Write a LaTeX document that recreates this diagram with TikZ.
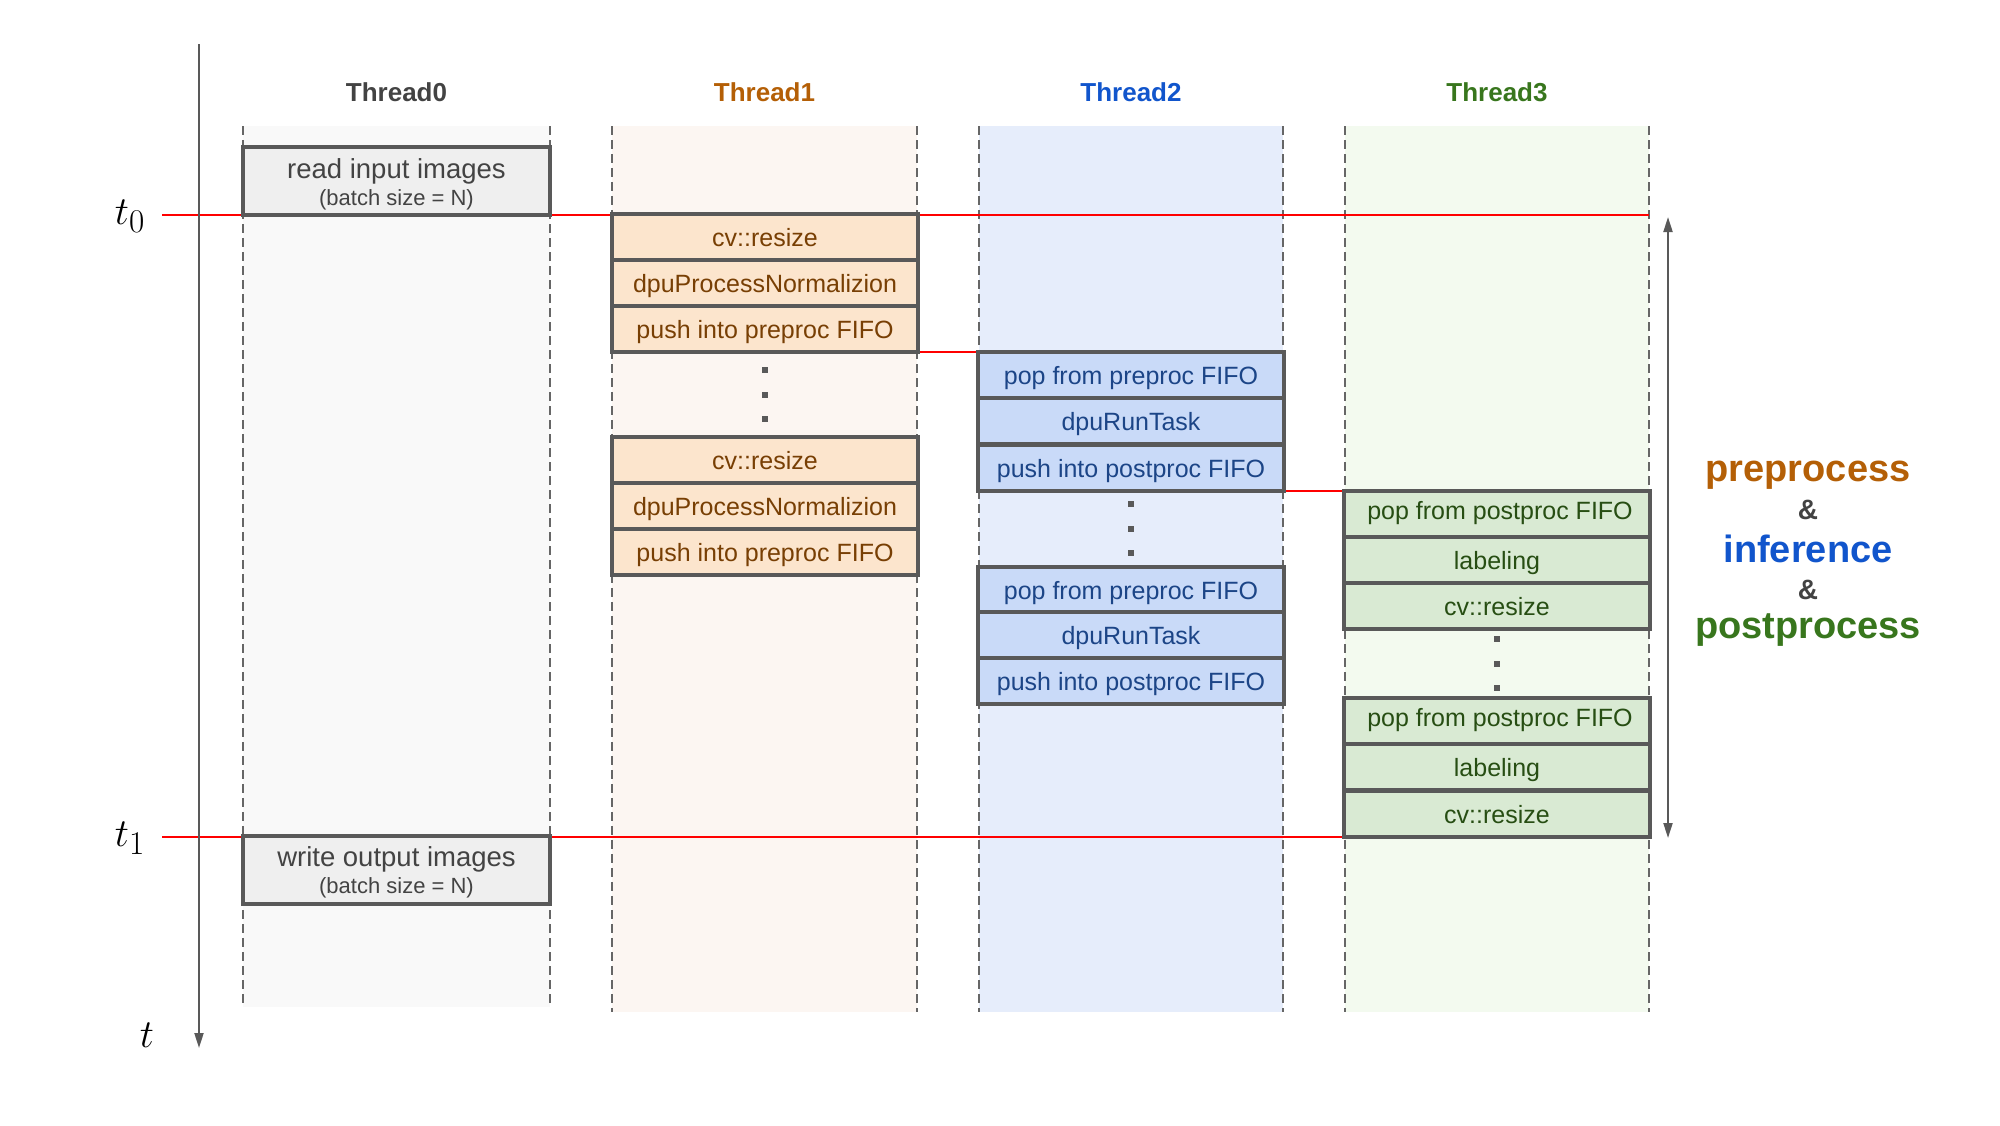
\documentclass[tikz,border=0pt]{standalone}
\usepackage[no-math]{fontspec}
\setmainfont{Liberation Sans}
\usetikzlibrary{arrows.meta}
\pgfdeclarelayer{back}
\pgfdeclarelayer{mid}
\pgfsetlayers{back,mid,main}
\definecolor{boxgray}{HTML}{595959}
\definecolor{dashgray}{HTML}{666666}
\definecolor{redl}{HTML}{FF0000}
\definecolor{colA}{HTML}{F9F9F9}
\definecolor{colB}{HTML}{FCF6F2}
\definecolor{colC}{HTML}{E6EDFB}
\definecolor{colD}{HTML}{F3FAEF}
\definecolor{fillA}{HTML}{EFEFEF}
\definecolor{fillB}{HTML}{FCE5CD}
\definecolor{fillC}{HTML}{C9DAF8}
\definecolor{fillD}{HTML}{D9EAD3}
\definecolor{txtA}{HTML}{434343}
\definecolor{labB}{HTML}{B45F06}
\definecolor{labC}{HTML}{1155CC}
\definecolor{labD}{HTML}{38761D}
\definecolor{txtB}{HTML}{783F04}
\definecolor{txtC}{HTML}{1C4587}
\definecolor{txtD}{HTML}{274E13}
\tikzset{
  coldash/.style={draw=dashgray, line width=2pt, dash pattern=on 9pt off 5pt},
  redline/.style={draw=redl, line width=2.5pt},
  rowbox/.style={draw=boxgray, line width=4pt, minimum width=306pt, minimum height=46pt,
    inner sep=0pt, outer sep=0pt, anchor=north west, text height=23pt, text depth=4pt,
    font=\fontsize{25}{30}\selectfont},
  rowB/.style={rowbox, fill=fillB, text=txtB},
  rowC/.style={rowbox, fill=fillC, text=txtC},
  rowD/.style={rowbox, fill=fillD, text=txtD},
  bigbox/.style={draw=boxgray, line width=4pt, fill=fillA, minimum width=307pt,
    minimum height=68pt, inner sep=0pt, outer sep=0pt, anchor=north west},
  bigtxt/.style={anchor=base, inner sep=0pt, text=txtA, font=\fontsize{27.5}{32}\selectfont},
  smalltxt/.style={anchor=base, inner sep=0pt, text=txtA, font=\fontsize{22}{26}\selectfont},
  thlabel/.style={inner sep=0pt, font=\bfseries\fontsize{26}{30}\selectfont},
  sidetxt/.style={inner sep=0pt, font=\bfseries\fontsize{38}{44}\selectfont},
  amptxt/.style={inner sep=0pt, text=txtA, font=\bfseries\fontsize{28}{32}\selectfont},
  tlabel/.style={inner sep=0pt, scale=1.6, font=\fontsize{24.88}{30}\selectfont},
  axisline/.style={draw=boxgray, line width=2pt},
  dotsq/.style={fill=boxgray},
}
\begin{document}
\begin{tikzpicture}[x=1pt,y=-1pt]
\useasboundingbox (0,0) rectangle (2000,1125);

% ---- column backgrounds
\begin{pgfonlayer}{back}
\fill[colA] (243,126) rectangle (550,1007);
\fill[colB] (612,126) rectangle (917,1012);
\fill[colC] (979,126) rectangle (1283,1012);
\fill[colD] (1345,126) rectangle (1649,1012);
\draw[coldash] (243,126) -- (243,1007);
\draw[coldash] (550,126) -- (550,1007);
\draw[coldash] (612,126) -- (612,1012);
\draw[coldash] (917,126) -- (917,1012);
\draw[coldash] (979,126) -- (979,1012);
\draw[coldash] (1283,126) -- (1283,1012);
\draw[coldash] (1345,126) -- (1345,1012);
\draw[coldash] (1649,126) -- (1649,1012);
\end{pgfonlayer}

% ---- thread labels
\node[thlabel, text=txtA] (th0) at (396.5,92) {Thread0};
\node[thlabel, text=labB] (th1) at (764.5,92) {Thread1};
\node[thlabel, text=labC] (th2) at (1131,92) {Thread2};
\node[thlabel, text=labD] (th3) at (1497,92) {Thread3};

% ---- Thread0
\node[bigbox] (rd) at (243,147) {};
\node[bigtxt] (rdA) at (396.5,178) {read input images};
\node[smalltxt] (rdB) at (396.5,205) {(batch size = N)};
\node[bigbox] (wr) at (243,836) {};
\node[bigtxt] (wrA) at (396.5,866) {write output images};
\node[smalltxt] (wrB) at (396.5,893) {(batch size = N)};

% ---- Thread1
\node[rowB] (b1a) at (612,214) {cv::resize};
\node[rowB] (b1b) at (612,260) {dpuProcessNormalizion};
\node[rowB] (b1c) at (612,306) {push into preproc FIFO};
\node[rowB] (b1d) at (612,437) {cv::resize};
\node[rowB] (b1e) at (612,483) {dpuProcessNormalizion};
\node[rowB] (b1f) at (612,529) {push into preproc FIFO};

% ---- Thread2
\node[rowC] (b2a) at (978,352) {pop from preproc FIFO};
\node[rowC] (b2b) at (978,398) {dpuRunTask};
\node[rowC] (b2c) at (978,445) {push into postproc FIFO};
\node[rowC] (b2d) at (978,567) {pop from preproc FIFO};
\node[rowC] (b2e) at (978,612) {dpuRunTask};
\node[rowC] (b2f) at (978,658) {push into postproc FIFO};

% ---- Thread3
\node[rowD] (b3a) at (1344,491) {\hspace{6pt}\raisebox{4pt}{pop from postproc FIFO}};
\node[rowD] (b3b) at (1344,537) {labeling};
\node[rowD] (b3c) at (1344,583) {cv::resize};
\node[rowD] (b3d) at (1344,698) {\hspace{6pt}\raisebox{4pt}{pop from postproc FIFO}};
\node[rowD] (b3e) at (1344,744) {labeling};
\node[rowD] (b3f) at (1344,791) {cv::resize};

% ---- continuation dots
\foreach \yy in {370,395,419} \fill[dotsq] (761.5,\yy-3) rectangle ++(6,6);
\foreach \yy in {504,529,553} \fill[dotsq] (1128,\yy-3) rectangle ++(6,6);
\foreach \yy in {639,664,688} \fill[dotsq] (1494,\yy-3) rectangle ++(6,6);

% ---- red time lines
\coordinate (t0a) at (162,215);
\coordinate (t0b) at (1649,215);
\coordinate (t1a) at (162,837);
\begin{pgfonlayer}{mid}
\draw[redline] (t0a) -- (t0b);
\draw[redline] (t1a) -- (b3f.south west);
\draw[redline] (b1c.south east) -- (b2a.north west);
\draw[redline] (b2c.south east) -- (b3a.north west);
\end{pgfonlayer}

% ---- time axis
\coordinate (ax0) at (199,44);
\coordinate (ax1) at (199,1048);
\draw[axisline, -{Triangle[length=15pt,width=9pt]}] (ax0) -- (ax1);
\node[tlabel] (lt0) at (130,216) {$t_0$};
\node[tlabel] (lt1) at (130,838) {$t_1$};
\node[tlabel] (lt) at (147,1035) {$t$};

% ---- span arrow
\coordinate (sp0) at (1668,217);
\coordinate (sp1) at (1668,838);
\draw[axisline, {Triangle[length=15pt,width=9pt]}-{Triangle[length=15pt,width=9pt]}] (sp1) -- (sp0);

% ---- side text
\node[sidetxt, text=labB] (pre) at (1808,475) {preprocess};
\node[amptxt] (am1) at (1808,510) {\&};
\node[sidetxt, text=labC] (inf) at (1808,549) {inference};
\node[amptxt] (am2) at (1808,590) {\&};
\node[sidetxt, text=labD] (post) at (1808,630) {postprocess};
\end{tikzpicture}
\end{document}
